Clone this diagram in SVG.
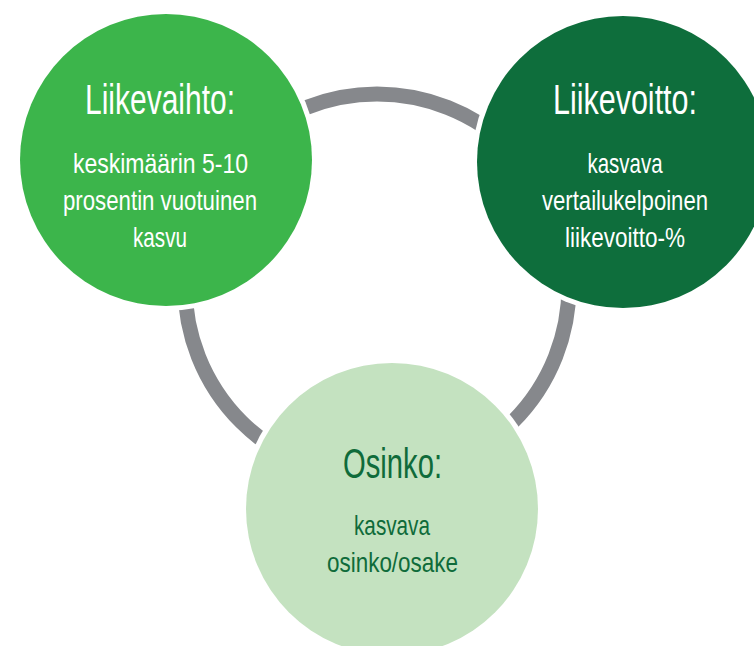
<svg xmlns="http://www.w3.org/2000/svg" width="754" height="646" viewBox="0 0 754 646">
<style>
  .halo{fill:#ffffff}
  .t{font-family:"Liberation Sans",Arial,sans-serif;text-anchor:middle}
  .title{font-size:43px}
  .body{font-size:28px}
  .w{fill:#ffffff}
  .g{fill:#0f6b3a}
  .ring{fill:none;stroke:#86888c;stroke-width:15}
</style>
<rect width="754" height="646" fill="#ffffff"/>
<g id="connectors">
  <circle class="ring" cx="377" cy="286" r="192"/>
</g>
<g id="node-liikevaihto">
  <circle class="halo" cx="166" cy="160" r="151"/>
  <circle cx="166" cy="160" r="146" fill="#3cb54b"/>
  <text class="t title w" x="160" y="114" textLength="150" lengthAdjust="spacingAndGlyphs">Liikevaihto:</text>
  <text class="t body w" x="160.5" y="173" textLength="175" lengthAdjust="spacingAndGlyphs">keskimäärin 5-10</text>
  <text class="t body w" x="160" y="210" textLength="194" lengthAdjust="spacingAndGlyphs">prosentin vuotuinen</text>
  <text class="t body w" x="160" y="247" textLength="54" lengthAdjust="spacingAndGlyphs">kasvu</text>
</g>
<g id="node-liikevoitto">
  <circle class="halo" cx="623" cy="162" r="151"/>
  <circle cx="623" cy="162" r="146" fill="#0e6e3c"/>
  <text class="t title w" x="625" y="114" textLength="144" lengthAdjust="spacingAndGlyphs">Liikevoitto:</text>
  <text class="t body w" x="625" y="173" textLength="75" lengthAdjust="spacingAndGlyphs">kasvava</text>
  <text class="t body w" x="625" y="210" textLength="166" lengthAdjust="spacingAndGlyphs">vertailukelpoinen</text>
  <text class="t body w" x="625" y="247" textLength="120" lengthAdjust="spacingAndGlyphs">liikevoitto-%</text>
</g>
<g id="node-osinko">
  <circle class="halo" cx="392" cy="509" r="151"/>
  <circle cx="392" cy="509" r="146" fill="#c4e2c0"/>
  <text class="t title g" x="392.5" y="478" textLength="99" lengthAdjust="spacingAndGlyphs">Osinko:</text>
  <text class="t body g" x="392" y="535" textLength="76" lengthAdjust="spacingAndGlyphs">kasvava</text>
  <text class="t body g" x="392.5" y="572" textLength="131" lengthAdjust="spacingAndGlyphs">osinko/osake</text>
</g>
</svg>
